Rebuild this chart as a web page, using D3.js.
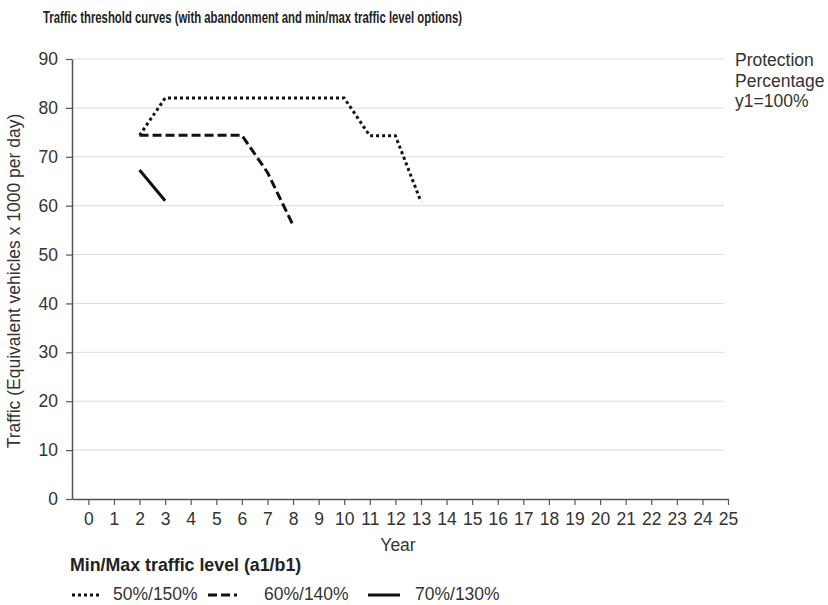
<!DOCTYPE html>
<html>
<head>
<meta charset="utf-8">
<script src="https://cdn.jsdelivr.net/npm/d3@7/dist/d3.min.js"></script>
<style>
  html, body { margin: 0; padding: 0; background: #fff; }
  svg { display: block; font-family: "Liberation Sans", Arial, sans-serif; }
</style>
</head>
<body>
<svg id="chart" width="828" height="605"></svg>
<script>
// Threshold curves: traffic (x1000 equivalent vehicles/day) by year
const years = d3.range(0, 26);
const yTicks = [0, 10, 20, 30, 40, 50, 60, 70, 80, 90];

const years5050 = [2, 3, 10, 11, 12, 13];
const values5050 = [74.4, 82, 82, 74.3, 74.3, 60.8];

const years6040 = [2, 6, 7, 8];
const values6040 = [74.4, 74.4, 66.8, 56];

const years7030 = [2, 3];
const values7030 = [67.3, 61];

const seriesNames = ["50%/150%", "60%/140%", "70%/130%"];
const seriesDash = ["3,3", "9,4", null];

const seriesData = [
  years5050.map((y, i) => ({ year: y, value: values5050[i] })),
  years6040.map((y, i) => ({ year: y, value: values6040[i] })),
  years7030.map((y, i) => ({ year: y, value: values7030[i] }))
];

const svg = d3.select("#chart");
const textColor = "#333";
const axisColor = "#555";
const fs = 17.5;

const x = d3.scaleLinear().domain([-0.64, 25]).range([72, 728]);
const y = d3.scaleLinear().domain([0, 90]).range([499, 59]);

// Title
svg.append("text")
  .attr("x", 43).attr("y", 23)
  .attr("font-family", "'Liberation Sans Narrow', 'Liberation Sans', Arial, sans-serif")
  .attr("font-weight", "bold").attr("font-size", 16.5)
  .attr("fill", "#222")
  .attr("textLength", 419).attr("lengthAdjust", "spacingAndGlyphs")
  .text("Traffic threshold curves (with abandonment and min/max traffic level options)");

// Horizontal gridlines
svg.append("g").selectAll("line")
  .data(yTicks.filter(d => d > 0))
  .join("line")
  .attr("x1", 72).attr("x2", 724)
  .attr("y1", d => y(d)).attr("y2", d => y(d))
  .attr("stroke", "#dcdcdc").attr("stroke-width", 1);

// Y axis
const yAxis = svg.append("g")
  .attr("transform", "translate(72,0)")
  .call(d3.axisLeft(y).tickValues(yTicks).tickSize(6).tickPadding(8).tickSizeOuter(0));
yAxis.select(".domain").attr("stroke", axisColor).attr("stroke-width", 1.5);
yAxis.selectAll(".tick line").attr("stroke", axisColor).attr("stroke-width", 1.2);
yAxis.selectAll(".tick text").attr("font-size", fs).attr("fill", textColor)
  .attr("font-family", "'Liberation Sans', Arial, sans-serif");

// X axis
const xAxis = svg.append("g")
  .attr("transform", "translate(0,499)")
  .call(d3.axisBottom(x).tickValues(years).tickSize(6).tickPadding(8).tickSizeOuter(0));
xAxis.select(".domain").attr("stroke", axisColor).attr("stroke-width", 1.5);
xAxis.selectAll(".tick line").attr("stroke", axisColor).attr("stroke-width", 1.2);
xAxis.selectAll(".tick text").attr("font-size", fs).attr("fill", textColor)
  .attr("font-family", "'Liberation Sans', Arial, sans-serif");

// Axis titles
svg.append("text")
  .attr("x", 398).attr("y", 551)
  .attr("text-anchor", "middle").attr("font-size", fs).attr("fill", textColor)
  .text("Year");

svg.append("text")
  .attr("transform", "translate(20,281) rotate(-90)")
  .attr("text-anchor", "middle").attr("font-size", fs).attr("fill", textColor)
  .text("Traffic (Equivalent vehicles x 1000 per day)");

// Side note
const note = svg.append("text")
  .attr("x", 735).attr("y", 66)
  .attr("font-size", fs).attr("fill", textColor);
["Protection", "Percentage", "y1=100%"].forEach((t, i) => {
  note.append("tspan").attr("x", 735).attr("dy", i === 0 ? 0 : 20.5).text(t);
});

// Series lines
const line = d3.line().x(d => x(d.year)).y(d => y(d.value));
svg.append("g").selectAll("path")
  .data(seriesData)
  .join("path")
  .attr("d", line)
  .attr("fill", "none")
  .attr("stroke", "#111")
  .attr("stroke-width", 3)
  .attr("stroke-dasharray", (d, i) => seriesDash[i]);

// Legend
svg.append("text")
  .attr("x", 70).attr("y", 571)
  .attr("font-weight", "bold").attr("font-size", 17.8).attr("fill", "#222")
  .text("Min/Max traffic level (a1/b1)");

const legendX = [72, 208, 368];
const legendLen = [28, 29, 32];
const legendTextX = [113, 264, 415];
const lg = svg.append("g");
seriesNames.forEach((name, i) => {
  lg.append("line")
    .attr("x1", legendX[i]).attr("x2", legendX[i] + legendLen[i])
    .attr("y1", 595).attr("y2", 595)
    .attr("stroke", "#111").attr("stroke-width", 3)
    .attr("stroke-dasharray", seriesDash[i]);
  lg.append("text")
    .attr("x", legendTextX[i]).attr("y", 600)
    .attr("font-size", fs).attr("fill", textColor)
    .text(name);
});
</script>
</body>
</html>
